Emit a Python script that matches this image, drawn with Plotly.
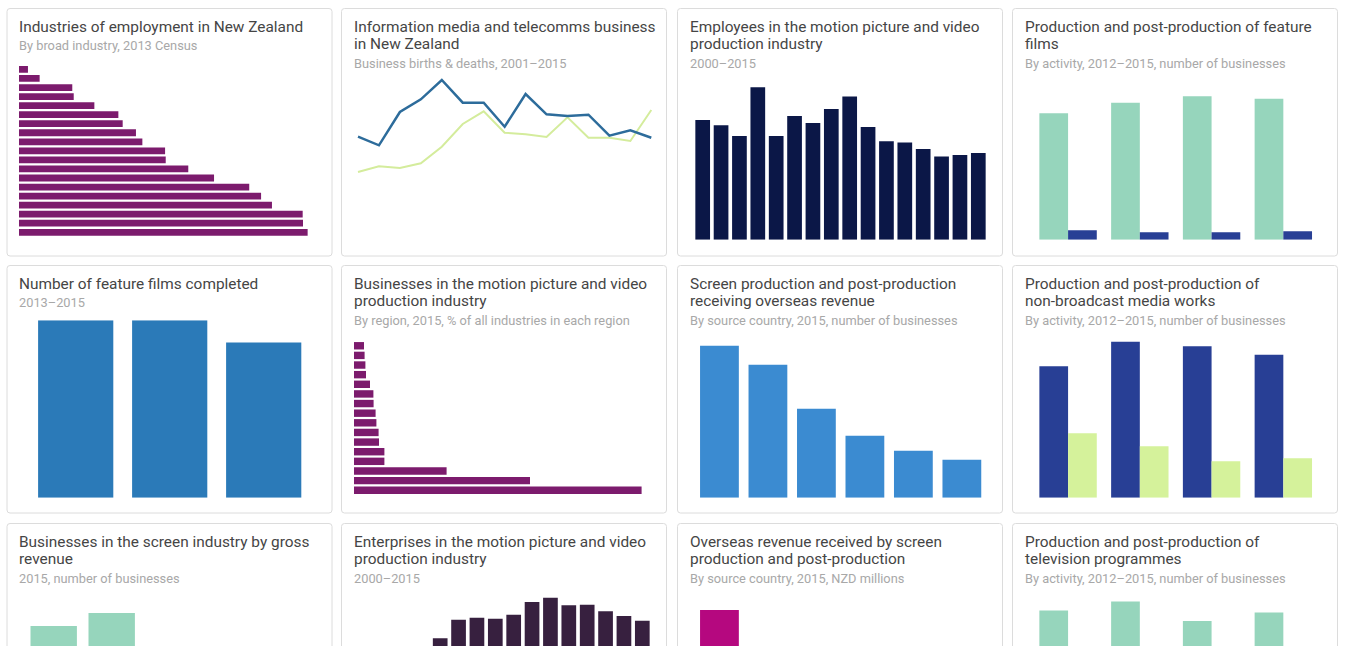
import plotly.graph_objects as go

W, H = 1346, 646
FONT = "Roboto, Liberation Sans, Arial, sans-serif"

# ---------------- data ----------------
industries = ["Mining", "Electricity, gas, water & waste", "Rental, hiring & real estate",
              "Information media & telecommunications", "Arts & recreation", "Financial & insurance",
              "Public administration & safety", "Transport, postal & warehousing", "Wholesale trade",
              "Administrative & support", "Other services", "Accommodation & food",
              "Agriculture, forestry & fishing", "Education & training", "Construction",
              "Professional, scientific & technical", "Retail trade",
              "Health care & social assistance", "Manufacturing"]
industry_employment = [5.6, 12.9, 33.3, 34.2, 47.1, 62.1, 64.8, 73.1, 77.1, 91.3, 91.7,
                       105.8, 121.9, 143.9, 151.3, 158.1, 177.3, 177.5, 180.4]

bd_years = [2001, 2002, 2003, 2004, 2005, 2006, 2007, 2008, 2009, 2010, 2011, 2012, 2013, 2014, 2015]
births = [1033, 947, 1280, 1407, 1600, 1373, 1373, 1133, 1460, 1257, 1240, 1253, 1043, 1097, 1023]
deaths = [680, 737, 720, 767, 933, 1160, 1287, 1073, 1057, 1030, 1227, 1023, 1023, 990, 1300]

years_00_15 = ["2000", "2001", "2002", "2003", "2004", "2005", "2006", "2007",
               "2008", "2009", "2010", "2011", "2012", "2013", "2014", "2015"]
employees = [2990, 2860, 2590, 3810, 2590, 3090, 2920, 3270, 3580, 2820, 2460, 2430, 2270, 2080, 2120, 2170]

years_12_15 = ["2012", "2013", "2014", "2015"]
feature_production = [253, 274, 287, 282]
feature_postproduction = [19, 15, 15, 17]

years_13_15 = ["2013", "2014", "2015"]
films_completed = [8, 8, 7]

regions = ["West Coast", "Southland", "Gisborne", "Marlborough", "Northland", "Taranaki",
           "Manawatu-Wanganui", "Hawke's Bay", "Waikato", "Bay of Plenty", "Otago", "Tasman",
           "Nelson", "Canterbury", "Wellington", "Auckland"]
region_share = [0.05, 0.053, 0.057, 0.06, 0.08, 0.097, 0.098, 0.108, 0.112, 0.123, 0.125,
                0.152, 0.152, 0.463, 0.88, 1.438]

countries_biz = ["Australia", "United States", "United Kingdom", "Canada", "China", "Germany"]
overseas_businesses = [152, 133, 89, 62, 47, 38]

nonbroadcast_production = [263, 312, 303, 286]
nonbroadcast_postproduction = [129, 103, 73, 79]

revenue_bands = ["Under $100k", "$100k–$500k", "$500k–$1m", "$1m–$5m", "Over $5m"]
revenue_businesses = [645, 710, 400, 200, 150]

enterprises = [1380, 1470, 1530, 1575, 1750, 2030, 2060, 2045, 2105, 2295, 2360, 2245, 2255, 2155, 2085, 2015]

countries_rev = ["United States", "United Kingdom", "Australia", "China", "Canada", "Germany"]
overseas_revenue = [580, 120, 80, 60, 40, 30]

tv_production = [289, 307, 268, 285]
tv_postproduction = [60, 55, 50, 58]

titles = [
    ["Industries of employment in New Zealand"],
    ["Information media and telecomms business", "in New Zealand"],
    ["Employees in the motion picture and video", "production industry"],
    ["Production and post-production of feature", "films"],
    ["Number of feature films completed"],
    ["Businesses in the motion picture and video", "production industry"],
    ["Screen production and post-production", "receiving overseas revenue"],
    ["Production and post-production of", "non-broadcast media works"],
    ["Businesses in the screen industry by gross", "revenue"],
    ["Enterprises in the motion picture and video", "production industry"],
    ["Overseas revenue received by screen", "production and post-production"],
    ["Production and post-production of", "television programmes"],
]
subtitles = [
    "By broad industry, 2013 Census",
    "Business births &amp; deaths, 2001–2015",
    "2000–2015",
    "By activity, 2012–2015, number of businesses",
    "2013–2015",
    "By region, 2015, % of all industries in each region",
    "By source country, 2015, number of businesses",
    "By activity, 2012–2015, number of businesses",
    "2015, number of businesses",
    "2000–2015",
    "By source country, 2015, NZD millions",
    "By activity, 2012–2015, number of businesses",
]

# ---------------- colours ----------------
PURPLE = "#7c1b6d"
BLUE_LINE = "#2d6c9b"
LIME = "#d4ec9c"
NAVY_DARK = "#0b1747"
MINT = "#96d5bc"
ROYAL = "#283f95"
STEEL = "#2b7ab8"
SKY = "#3b8bd1"
LIME_BAR = "#d5f29b"
AUBERGINE = "#37203f"
MAGENTA = "#b5087f"

# ---------------- geometry helpers ----------------
col_left = [7.0, 341.5, 677.5, 1012.5]
row_top = [8.5, 265.5, 523.5]
CARD_W, CARD_H = 325.0, 247.5


def xp(px):
    return px / W


def yp(py):
    return 1 - py / H


def clamp(v):
    return max(0.0, min(1.0, v))


def sfx(i):
    return "" if i == 1 else str(i)


axes = {}


def set_axes(i, x0, x1, y_top, y_bottom, xr, yr, xtype="linear", ytype="linear"):
    s = sfx(i)
    axes["xaxis" + s] = dict(domain=[clamp(xp(x0)), clamp(xp(x1))], range=xr, type=xtype,
                             visible=False, fixedrange=True, anchor="y" + s)
    axes["yaxis" + s] = dict(domain=[clamp(yp(y_bottom)), clamp(yp(y_top))], range=yr, type=ytype,
                             visible=False, fixedrange=True, anchor="x" + s)


def vbar_axes(i, x0, x1, base, top, k, n):
    bottom = min(base, H)
    set_axes(i, x0, x1, top, bottom, [-0.5, n - 0.5], [(base - bottom) * k, (base - top) * k],
             xtype="category")


fig = go.Figure()


def ref(i):
    return dict(xaxis="x" + sfx(i), yaxis="y" + sfx(i))


# 1 industries (horizontal)
fig.add_trace(go.Bar(y=industries, x=industry_employment, orientation="h", marker_color=PURPLE,
                     width=0.75, **ref(1)))
set_axes(1, 19, 19 + 190 / 0.625, 64.9, 236.8, [0, 190], [len(industries) - 0.5, -0.5], ytype="category")

# 2 births & deaths lines
fig.add_trace(go.Scatter(x=bd_years, y=deaths, mode="lines", line=dict(color=LIME, width=2), **ref(2)))
fig.add_trace(go.Scatter(x=bd_years, y=births, mode="lines", line=dict(color=BLUE_LINE, width=2.5), **ref(2)))
set_axes(2, 355.9, 653.4, 76, 240, [2000.9, 2015.1], [0, 1640])

# 3 employees
fig.add_trace(go.Bar(x=years_00_15, y=employees, marker_color=NAVY_DARK, **ref(3)))
vbar_axes(3, 693.5, 987.5, 239.7, 80, 25, len(years_00_15))

# 4 feature films production / post-production
fig.add_trace(go.Bar(x=years_12_15, y=feature_production, marker_color=MINT, **ref(4)))
fig.add_trace(go.Bar(x=years_12_15, y=feature_postproduction, marker_color=ROYAL, **ref(4)))
vbar_axes(4, 1032.2, 1319.2, 239.7, 80, 2, len(years_12_15))

# 5 feature films completed
fig.add_trace(go.Bar(x=years_13_15, y=films_completed, marker_color=STEEL, **ref(5)))
set_axes(5, 28.7, 310.7, 320.3, 497.7, [-0.5, 2.5], [0, 8], xtype="category")

# 6 regions (horizontal)
fig.add_trace(go.Bar(y=regions, x=region_share, orientation="h", marker_color=PURPLE,
                     width=0.77, **ref(6)))
set_axes(6, 354, 354 + 1.5 / 0.005, 340.95, 495.05, [0, 1.5], [len(regions) - 0.5, -0.5], ytype="category")

# 7 overseas revenue businesses
fig.add_trace(go.Bar(x=countries_biz, y=overseas_businesses, marker_color=SKY, **ref(7)))
vbar_axes(7, 695.2, 986.1, 497.7, 340, 1, len(countries_biz))

# 8 non-broadcast
fig.add_trace(go.Bar(x=years_12_15, y=nonbroadcast_production, marker_color=ROYAL, **ref(8)))
fig.add_trace(go.Bar(x=years_12_15, y=nonbroadcast_postproduction, marker_color=LIME_BAR, **ref(8)))
vbar_axes(8, 1032.2, 1319.2, 497.7, 338, 2, len(years_12_15))

# 9 gross revenue
fig.add_trace(go.Bar(x=revenue_bands, y=revenue_businesses, marker_color=MINT, **ref(9)))
vbar_axes(9, 24.7, 314.7, 755, 595.3, 5, len(revenue_bands))

# 10 enterprises
fig.add_trace(go.Bar(x=years_00_15, y=enterprises, marker_color=AUBERGINE, **ref(10)))
vbar_axes(10, 357.5, 651.5, 755, 595.3, 15, len(years_00_15))

# 11 overseas revenue NZD
fig.add_trace(go.Bar(x=countries_rev, y=overseas_revenue, marker_color=MAGENTA, **ref(11)))
vbar_axes(11, 695.2, 986.1, 755, 595.3, 4, len(countries_rev))

# 12 television programmes
fig.add_trace(go.Bar(x=years_12_15, y=tv_production, marker_color=MINT, **ref(12)))
fig.add_trace(go.Bar(x=years_12_15, y=tv_postproduction, marker_color=ROYAL, **ref(12)))
vbar_axes(12, 1032.2, 1319.2, 755, 595.3, 2, len(years_12_15))

for tr in fig.data:
    tr.update(showlegend=False, hoverinfo="skip")
    if tr.type == "bar":
        tr.update(marker_line_width=0)


# ---------------- cards & titles ----------------
def rr_path(x0, y0, x1, y1, r):
    X, Y = xp, yp
    return (f"M{X(x0 + r)},{Y(y0)} L{X(x1 - r)},{Y(y0)} Q{X(x1)},{Y(y0)} {X(x1)},{Y(y0 + r)} "
            f"L{X(x1)},{Y(y1 - r)} Q{X(x1)},{Y(y1)} {X(x1 - r)},{Y(y1)} "
            f"L{X(x0 + r)},{Y(y1)} Q{X(x0)},{Y(y1)} {X(x0)},{Y(y1 - r)} "
            f"L{X(x0)},{Y(y0 + r)} Q{X(x0)},{Y(y0)} {X(x0 + r)},{Y(y0)} Z")


shapes = []
annotations = []
TITLE_FS, SUB_FS = 15.4, 12.8
for idx in range(12):
    r, c = divmod(idx, 4)
    L, T = col_left[c], row_top[r]
    shapes.append(dict(type="path", xref="paper", yref="paper",
                       path=rr_path(L, T, L + CARD_W, T + CARD_H, 3),
                       line=dict(color="#dcdcdc", width=1), fillcolor="white", layer="below"))
    lines = titles[idx]
    for j, line in enumerate(lines):
        base = T + 23.5 + 17.7 * j
        annotations.append(dict(text=line, x=xp(L + 10.2), y=yp(base - 0.35 * TITLE_FS),
                                xref="paper", yref="paper", xanchor="left", yanchor="middle",
                                showarrow=False, font=dict(family=FONT, size=TITLE_FS, color="#454545")))
    sub_base = T + 23.5 + 17.7 * len(lines) + 0.3
    annotations.append(dict(text=subtitles[idx], x=xp(L + 10.2), y=yp(sub_base - 0.35 * SUB_FS),
                            xref="paper", yref="paper", xanchor="left", yanchor="middle",
                            showarrow=False, font=dict(family=FONT, size=SUB_FS, color="#a8a8a8")))

fig.update_layout(
    width=W, height=H, margin=dict(l=0, r=0, t=0, b=0),
    paper_bgcolor="white", plot_bgcolor="rgba(0,0,0,0)",
    barmode="group", bargap=0.2, bargroupgap=0,
    showlegend=False, shapes=shapes, annotations=annotations,
    font=dict(family=FONT),
    **axes,
)

fig.write_html("out.html", config={"displayModeBar": False},
               post_script="document.body.style.margin='0';document.body.style.overflow='hidden';")
